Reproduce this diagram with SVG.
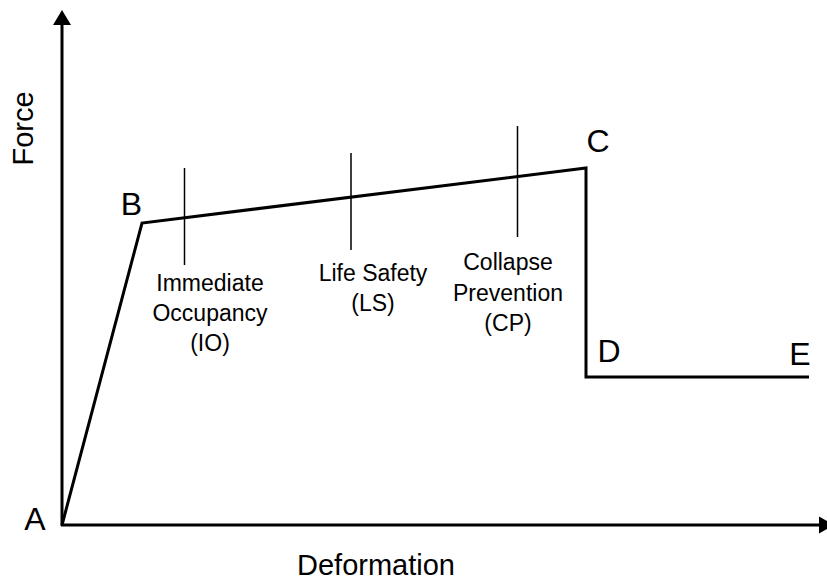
<svg xmlns="http://www.w3.org/2000/svg" width="827" height="582" viewBox="0 0 827 582">
<style>
text{font-family:"Liberation Sans",Arial,sans-serif;fill:#000}
.lbl{font-size:32px}
.ax{font-size:29px}
.lvl{font-size:23px;text-anchor:middle}
.curve{fill:none;stroke:#000;stroke-width:3;stroke-linejoin:miter}
.tick{stroke:#000;stroke-width:1.5}
.axis{stroke:#000;stroke-width:3}
</style>
<rect width="827" height="582" fill="#fff"/>
<g id="axes">
<line class="axis" x1="62" y1="526" x2="62" y2="24"/>
<polygon points="62,10 53,25 71,25" fill="#000"/>
<line class="axis" x1="61" y1="525" x2="820" y2="525"/>
<polygon points="834,525 819,516.5 819,533.5" fill="#000"/>
<text class="ax" transform="translate(33,128.5) rotate(-90)" text-anchor="middle">Force</text>
<text class="ax" x="376" y="575" text-anchor="middle">Deformation</text>
</g>
<g id="connectors">
<polyline class="curve" points="62,525 142,223 586,168 586,377 809,377"/>
</g>
<g id="A"><text class="lbl" x="35" y="530" text-anchor="middle">A</text></g>
<g id="B"><text class="lbl" x="131.5" y="215" text-anchor="middle">B</text></g>
<g id="C"><text class="lbl" x="598" y="152" text-anchor="middle">C</text></g>
<g id="D"><text class="lbl" x="609" y="362" text-anchor="middle">D</text></g>
<g id="E"><text class="lbl" x="800" y="365" text-anchor="middle">E</text></g>
<g id="IO">
<line class="tick" x1="184.5" y1="168" x2="184.5" y2="265"/>
<text class="lvl" x="210" y="291">Immediate</text>
<text class="lvl" x="210" y="321">Occupancy</text>
<text class="lvl" x="210" y="351">(IO)</text>
</g>
<g id="LS">
<line class="tick" x1="351" y1="153" x2="351" y2="250"/>
<text class="lvl" x="373" y="281">Life Safety</text>
<text class="lvl" x="373" y="311">(LS)</text>
</g>
<g id="CP">
<line class="tick" x1="517.5" y1="126" x2="517.5" y2="237"/>
<text class="lvl" x="508" y="270">Collapse</text>
<text class="lvl" x="508" y="301">Prevention</text>
<text class="lvl" x="508" y="331">(CP)</text>
</g>
</svg>
